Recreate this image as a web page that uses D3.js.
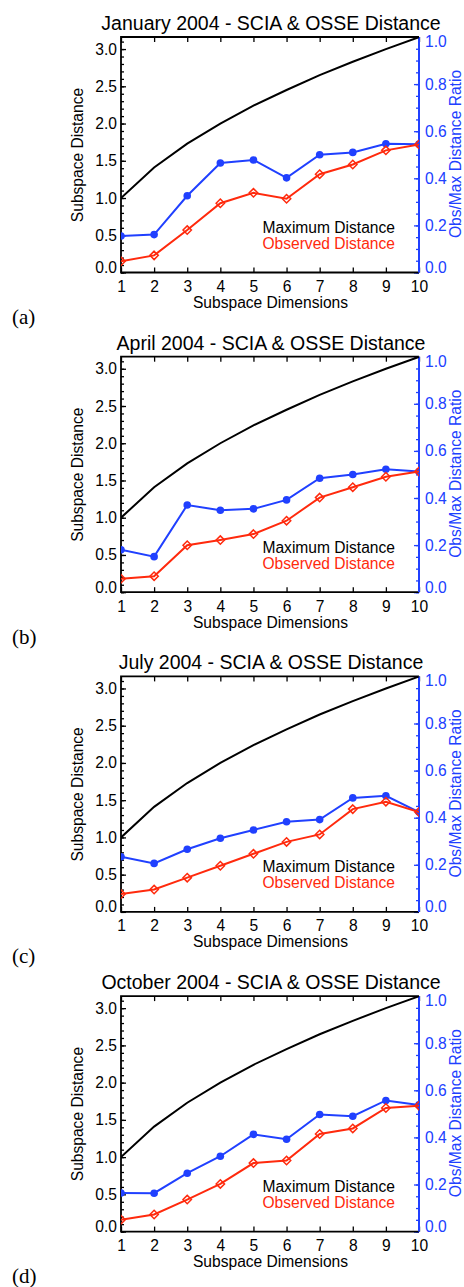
<!DOCTYPE html>
<html>
<head>
<meta charset="utf-8">
<script src="https://cdn.jsdelivr.net/npm/d3@7"></script>
<style>
  body { margin: 0; background: #fff; }
  svg { display: block; }
</style>
</head>
<body>
<svg id="chart" width="464" height="1287"></svg>
<script>
// Data
const dims = [1, 2, 3, 4, 5, 6, 7, 8, 9, 10];
const maxDistance = [1.00, 1.41, 1.73, 2.00, 2.24, 2.45, 2.65, 2.83, 3.00, 3.16];

const obsJan = [0.15, 0.23, 0.57, 0.93, 1.07, 0.99, 1.32, 1.45, 1.64, 1.72];
const ratioJan = [0.155, 0.161, 0.326, 0.465, 0.478, 0.402, 0.50, 0.51, 0.547, 0.545];

const obsApr = [0.18, 0.215, 0.63, 0.70, 0.78, 0.96, 1.27, 1.41, 1.55, 1.62];
const ratioApr = [0.18, 0.151, 0.37, 0.348, 0.354, 0.392, 0.484, 0.50, 0.522, 0.512];

const obsJul = [0.24, 0.30, 0.46, 0.62, 0.78, 0.94, 1.04, 1.38, 1.48, 1.34];
const ratioJul = [0.234, 0.206, 0.266, 0.313, 0.348, 0.383, 0.392, 0.484, 0.493, 0.424];

const obsOct = [0.16, 0.23, 0.43, 0.64, 0.92, 0.955, 1.31, 1.385, 1.66, 1.69];
const ratioOct = [0.164, 0.163, 0.248, 0.32, 0.413, 0.392, 0.497, 0.49, 0.557, 0.538];

const titles = [
  'January 2004 - SCIA & OSSE Distance',
  'April 2004 - SCIA & OSSE Distance',
  'July 2004 - SCIA & OSSE Distance',
  'October 2004 - SCIA & OSSE Distance'
];
const panelLabels = ['(a)', '(b)', '(c)', '(d)'];
const observed = [obsJan, obsApr, obsJul, obsOct];
const ratios = [ratioJan, ratioApr, ratioJul, ratioOct];

const leftTicks = [0.0, 0.5, 1.0, 1.5, 2.0, 2.5, 3.0];
const rightTicks = [0.0, 0.2, 0.4, 0.6, 0.8, 1.0];

const RED = '#ff2a0d';
const BLUE = '#2040ff';
const FONT = '"Liberation Sans", Arial, Helvetica, sans-serif';

// Plot box inside each panel
const plotLeft = 121, plotRight = 419, plotTop = 37, plotBottom = 272.5;
const panelStep = 319.7;

const svg = d3.select('#chart');

const x = d3.scaleLinear().domain([1, 10]).range([plotLeft, plotRight]);
const y = d3.scaleLinear().domain([0, 3.162]).range([plotBottom, plotTop]);
const yRatio = d3.scaleLinear().domain([0, 1]).range([plotBottom, plotTop]);

svg.append('defs').append('clipPath')
  .attr('id', 'plot-clip')
  .append('rect')
  .attr('x', plotLeft)
  .attr('y', plotTop)
  .attr('width', plotRight - plotLeft)
  .attr('height', plotBottom - plotTop);

function styleAxis(g, color) {
  g.select('.domain').remove();
  g.selectAll('.tick line').attr('stroke', color).attr('stroke-width', 1.3);
  g.selectAll('.tick text')
    .attr('fill', color)
    .style('font-family', FONT)
    .style('font-size', '15.6px');
}

titles.forEach((title, i) => {
  const panel = svg.append('g').attr('transform', `translate(0,${i * panelStep})`);

  // --- axes ---
  // left major + minor
  panel.append('g')
    .attr('transform', `translate(${plotLeft},0)`)
    .call(d3.axisLeft(y).tickValues(d3.range(0, 3.15, 0.1)).tickSize(-3).tickFormat(''))
    .call(g => styleAxis(g, '#000'));
  const leftAxis = panel.append('g')
    .attr('transform', `translate(${plotLeft},0)`)
    .call(d3.axisLeft(y).tickValues(leftTicks).tickSize(-5).tickPadding(4).tickFormat(d3.format('.1f')))
    .call(g => styleAxis(g, '#000'));
  leftAxis.selectAll('.tick text').filter(d => d === 0).attr('y', -5);

  // right (ratio) major + minor
  panel.append('g')
    .attr('transform', `translate(${plotRight},0)`)
    .call(d3.axisRight(yRatio).tickValues(d3.range(0, 1.001, 0.05)).tickSize(-3).tickFormat(''))
    .call(g => styleAxis(g, BLUE));
  const rightAxis = panel.append('g')
    .attr('transform', `translate(${plotRight},0)`)
    .call(d3.axisRight(yRatio).tickValues(rightTicks).tickSize(-5).tickPadding(6).tickFormat(d3.format('.1f')))
    .call(g => styleAxis(g, BLUE));
  rightAxis.selectAll('.tick text').filter(d => d === 0).attr('y', -5);
  rightAxis.selectAll('.tick text').filter(d => d === 1).attr('y', 4.5);

  // bottom + top
  panel.append('g')
    .attr('transform', `translate(0,${plotBottom})`)
    .call(d3.axisBottom(x).tickValues(dims).tickSize(-5).tickPadding(8.5))
    .call(g => styleAxis(g, '#000'));
  panel.append('g')
    .attr('transform', `translate(0,${plotTop})`)
    .call(d3.axisTop(x).tickValues(dims).tickSize(-5).tickFormat(''))
    .call(g => styleAxis(g, '#000'));

  // box
  panel.append('path')
    .attr('d', `M${plotRight},${plotTop}H${plotLeft}V${plotBottom}H${plotRight}`)
    .attr('fill', 'none')
    .attr('stroke', '#000')
    .attr('stroke-width', 1.8);
  panel.append('line')
    .attr('x1', plotRight).attr('x2', plotRight)
    .attr('y1', plotTop).attr('y2', plotBottom)
    .attr('stroke', BLUE)
    .attr('stroke-width', 2);

  // --- series ---
  const plot = panel.append('g').attr('clip-path', 'url(#plot-clip)');

  const lineMax = d3.line().x((d, k) => x(dims[k])).y(d => y(d));
  const lineRatio = d3.line().x((d, k) => x(dims[k])).y(d => yRatio(d));

  plot.append('path')
    .attr('d', lineMax(maxDistance))
    .attr('fill', 'none')
    .attr('stroke', '#000')
    .attr('stroke-width', 2);

  plot.append('path')
    .attr('d', lineRatio(ratios[i]))
    .attr('fill', 'none')
    .attr('stroke', BLUE)
    .attr('stroke-width', 2);
  plot.selectAll('circle.ratio')
    .data(ratios[i])
    .join('circle')
    .attr('class', 'ratio')
    .attr('cx', (d, k) => x(dims[k]))
    .attr('cy', d => yRatio(d))
    .attr('r', 3.8)
    .attr('fill', BLUE);

  plot.append('path')
    .attr('d', lineMax(observed[i]))
    .attr('fill', 'none')
    .attr('stroke', RED)
    .attr('stroke-width', 2);
  // open diamonds, the line shows through them
  plot.selectAll('path.diamond')
    .data(observed[i])
    .join('path')
    .attr('class', 'diamond')
    .attr('transform', (d, k) => `translate(${x(dims[k])},${y(d)})`)
    .attr('d', 'M0,-4.2L4.2,0L0,4.2L-4.2,0Z')
    .attr('fill', 'none')
    .attr('stroke', RED)
    .attr('stroke-width', 1.5);

  // --- text ---
  panel.append('text')
    .attr('x', 271)
    .attr('y', 30)
    .attr('text-anchor', 'middle')
    .style('font-family', FONT)
    .style('font-size', '19.5px')
    .text(title);

  panel.append('text')
    .attr('x', 270.5)
    .attr('y', 308)
    .attr('text-anchor', 'middle')
    .style('font-family', FONT)
    .style('font-size', '15.6px')
    .text('Subspace Dimensions');

  panel.append('text')
    .attr('transform', 'translate(83,155) rotate(-90)')
    .attr('text-anchor', 'middle')
    .style('font-family', FONT)
    .style('font-size', '15.6px')
    .text('Subspace Distance');

  panel.append('text')
    .attr('transform', 'translate(461,154) rotate(-90)')
    .attr('text-anchor', 'middle')
    .attr('fill', BLUE)
    .style('font-family', FONT)
    .style('font-size', '15.6px')
    .text('Obs/Max Distance Ratio');

  // legend
  panel.append('text')
    .attr('x', 395)
    .attr('y', 233)
    .attr('text-anchor', 'end')
    .style('font-family', FONT)
    .style('font-size', '15.6px')
    .text('Maximum Distance');
  panel.append('text')
    .attr('x', 395)
    .attr('y', 249)
    .attr('text-anchor', 'end')
    .attr('fill', RED)
    .style('font-family', FONT)
    .style('font-size', '15.6px')
    .text('Observed Distance');

  panel.append('text')
    .attr('x', 12)
    .attr('y', 324)
    .style('font-family', '"Liberation Serif", "Times New Roman", serif')
    .style('font-size', '21px')
    .text(panelLabels[i]);
});
</script>
</body>
</html>
